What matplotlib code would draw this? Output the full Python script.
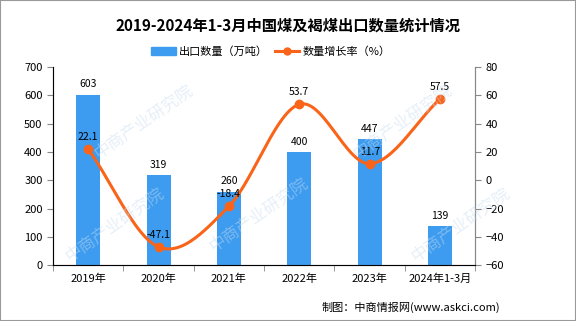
import numpy as np
import matplotlib
matplotlib.use("Agg")
import matplotlib.pyplot as plt
from matplotlib.lines import Line2D
from matplotlib.patches import Patch, Rectangle

plt.rcParams['font.family'] = ['Noto Sans CJK SC', 'DejaVu Sans']

# data
categories = ['2019年', '2020年', '2021年', '2022年', '2023年', '2024年1-3月']
export_qty = [603, 319, 260, 400, 447, 139]        # 万吨
growth_rate = [22.1, -47.1, -18.4, 53.7, 11.7, 57.5]  # %

bar_color = '#3d9cf0'
line_color = '#fa6419'


def catmull_rom(x, y, n=30):
    # smooth line through the points, for drawing only
    x = np.asarray(x, float)
    y = np.asarray(y, float)
    px = np.concatenate([[2 * x[0] - x[1]], x, [2 * x[-1] - x[-2]]])
    py = np.concatenate([[2 * y[0] - y[1]], y, [2 * y[-1] - y[-2]]])
    xs, ys = [], []
    t = np.linspace(0, 1, n)
    for i in range(1, len(px) - 2):
        for p, out in ((px, xs), (py, ys)):
            p0, p1, p2, p3 = p[i - 1], p[i], p[i + 1], p[i + 2]
            out.extend(0.5 * ((2 * p1) + (-p0 + p2) * t
                              + (2 * p0 - 5 * p1 + 4 * p2 - p3) * t ** 2
                              + (-p0 + 3 * p1 - 3 * p2 + p3) * t ** 3))
    return np.array(xs), np.array(ys)


fig = plt.figure(figsize=(5.76, 3.21), dpi=100)
fig.patches.append(Rectangle((0, 0), 1, 1, transform=fig.transFigure,
                             fill=False, edgecolor='#999999', linewidth=1.5))

ax = fig.add_axes([0.092, 0.174, 0.733, 0.617])
x = np.arange(len(categories))

ax.bar(x, export_qty, width=0.34, color=bar_color, zorder=2)
for xi, v in zip(x, export_qty):
    ax.text(xi, v + 18, str(v), ha='center', va='bottom', fontsize=7.5, zorder=5)

ax.set_xlim(-0.5, len(categories) - 0.5)
ax.set_ylim(0, 700)
ax.set_yticks(range(0, 701, 100))
ax.set_xticks(x)
ax.set_xticklabels(categories, fontsize=8)
ax.set_xticks(np.arange(-0.5, len(categories), 1), minor=True)
ax.tick_params(axis='x', which='major', length=0, pad=6)
ax.tick_params(axis='x', which='minor', length=4, color='#888888')
ax.tick_params(axis='y', labelsize=8, length=4, color='#888888')
ax.spines['top'].set_visible(False)
for s in ('left', 'bottom', 'right'):
    ax.spines[s].set_color('#888888')

ax2 = ax.twinx()
ax2.set_ylim(-60, 80)
ax2.set_yticks(range(-60, 81, 20))
ax2.tick_params(axis='y', labelsize=8, length=4, color='#888888')
ax2.spines['top'].set_visible(False)
ax2.spines['right'].set_color('#888888')

sx, sy = catmull_rom(x, growth_rate)
ax2.plot(sx, sy, color=line_color, linewidth=2.2, zorder=3)
ax2.plot(x, growth_rate, 'o', color=line_color, markersize=6, zorder=4)
for xi, v in zip(x, growth_rate):
    ax2.text(xi, v + 5, str(v), ha='center', va='bottom', fontsize=7.5, zorder=5)

# faint watermarks, kept inside the frame
for wx, wy in [(0.25, 0.62), (0.70, 0.62), (0.45, 0.33), (0.80, 0.30), (0.20, 0.30)]:
    fig.text(wx, wy, '中商产业研究院', fontsize=12, color='#c8dcef', alpha=0.45,
             rotation=35, ha='center', va='center', zorder=0)

fig.text(0.5, 0.92, '2019-2024年1-3月中国煤及褐煤出口数量统计情况',
         ha='center', va='center', fontsize=11, fontweight='bold')

handles = [Patch(color=bar_color),
           Line2D([0], [0], color=line_color, linewidth=2.2, marker='o', markersize=5)]
fig.legend(handles, ['出口数量（万吨）', '数量增长率（%）'], loc='center',
           bbox_to_anchor=(0.47, 0.84), ncol=2, frameon=False, fontsize=8,
           handlelength=2.2, columnspacing=0.6, handletextpad=0.3)

fig.text(0.868, 0.044, '制图：中商情报网(www.askci.com)', ha='right', va='center', fontsize=8)

fig.savefig('out.png', dpi=100)
